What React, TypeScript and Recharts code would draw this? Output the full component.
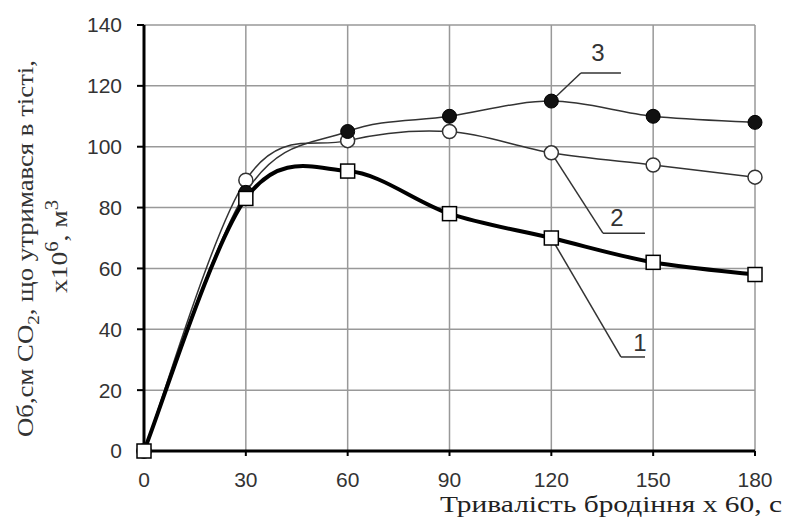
import React from "react";
import {
  LineChart,
  Line,
  XAxis,
  YAxis,
  CartesianGrid,
  ReferenceLine,
  ReferenceDot,
} from "recharts";

const minutes = [0, 30, 60, 90, 120, 150, 180];
const series1 = [0, 83, 92, 78, 70, 62, 58];
const series2 = [0, 89, 102, 105, 98, 94, 90];
const series3 = [0, 85, 105, 110, 115, 110, 108];
const xTicks = [0, 30, 60, 90, 120, 150, 180];
const yTicks = [0, 20, 40, 60, 80, 100, 120, 140];

// callout labels: text anchor, leader start, elbow, end
const calloutNames = ["1", "2", "3"];
const calloutText = [
  { x: 146.1, y: 35.8 },
  { x: 139.3, y: 76.9 },
  { x: 133.7, y: 131.1 },
];
const calloutStart = [
  { x: 120, y: 70 },
  { x: 120, y: 98 },
  { x: 120, y: 115 },
];
const calloutElbow = [
  { x: 140.5, y: 30.9 },
  { x: 135.2, y: 71.6 },
  { x: 128.7, y: 124.2 },
];
const calloutEnd = [
  { x: 147.6, y: 30.9 },
  { x: 147.6, y: 71.6 },
  { x: 140.5, y: 124.2 },
];

const data = minutes.map((t, i) => ({
  t,
  s1: series1[i],
  s2: series2[i],
  s3: series3[i],
}));

// Excel-style smoothed line (Catmull-Rom through the points)
const excelSmooth = (context: any) => {
  let pts: [number, number][] = [];
  return {
    areaStart() {},
    areaEnd() {},
    lineStart() {
      pts = [];
    },
    point(x: number, y: number) {
      pts.push([x, y]);
    },
    lineEnd() {
      if (!pts.length) return;
      context.moveTo(pts[0][0], pts[0][1]);
      for (let i = 0; i < pts.length - 1; i++) {
        const p0 = pts[Math.max(i - 1, 0)];
        const p1 = pts[i];
        const p2 = pts[i + 1];
        const p3 = pts[Math.min(i + 2, pts.length - 1)];
        context.bezierCurveTo(
          p1[0] + (p2[0] - p0[0]) / 6,
          p1[1] + (p2[1] - p0[1]) / 6,
          p2[0] - (p3[0] - p1[0]) / 6,
          p2[1] - (p3[1] - p1[1]) / 6,
          p2[0],
          p2[1]
        );
      }
    },
  };
};

const squareDot = (p: any) => (
  <rect
    key={`sq-${p.index}`}
    x={p.cx - 7}
    y={p.cy - 7}
    width={14}
    height={14}
    fill="#fff"
    stroke="#000"
    strokeWidth={1.5}
  />
);

const tickFont = { fontFamily: "Liberation Sans", fontSize: 21, fill: "#333" };

export default function App() {
  return (
    <div style={{ position: "absolute", left: 0, top: 0, background: "#fff" }}>
      <LineChart
        width={786}
        height={527}
        data={data}
        margin={{ top: 25, right: 31, left: 0, bottom: 0 }}
      >
        <CartesianGrid stroke="#999" strokeWidth={1.5} />
        <XAxis
          dataKey="t"
          type="number"
          domain={[0, 180]}
          ticks={xTicks}
          height={76}
          tick={tickFont}
          tickSize={5}
          tickMargin={16}
          axisLine={{ stroke: "#000", strokeWidth: 3 }}
          tickLine={{ stroke: "#000", strokeWidth: 2 }}
          label={{
            content: () => (
              <text
                x={440}
                y={512}
                textLength={342}
                lengthAdjust="spacingAndGlyphs"
                fontFamily="Liberation Serif"
                fontSize={24}
                fill="#222"
              >
                Тривалість бродіння х 60, с
              </text>
            ),
          }}
        />
        <YAxis
          type="number"
          domain={[0, 140]}
          ticks={yTicks}
          width={144}
          tick={tickFont}
          tickSize={7}
          tickMargin={15}
          axisLine={{ stroke: "#000", strokeWidth: 3 }}
          tickLine={{ stroke: "#000", strokeWidth: 2 }}
          label={{
            content: () => (
              <g fontFamily="Liberation Serif" fill="#333">
                <text
                  transform="translate(33,437) rotate(-90)"
                  textLength={377}
                  lengthAdjust="spacingAndGlyphs"
                  fontSize={24}
                >
                  Об,см СО
                  <tspan dy={6} fontSize={17}>
                    2
                  </tspan>
                  <tspan dy={-6}>, що утримався в тісті,</tspan>
                </text>
                <text
                  transform="translate(67,293) rotate(-90)"
                  textLength={93}
                  lengthAdjust="spacingAndGlyphs"
                  fontSize={24}
                >
                  x10
                  <tspan dy={-9} fontSize={18}>
                    6
                  </tspan>
                  <tspan dy={9}>, м</tspan>
                  <tspan dy={-9} fontSize={18}>
                    3
                  </tspan>
                </text>
              </g>
            ),
          }}
        />
        {calloutNames.map((n, i) => (
          <ReferenceLine
            key={`a-${n}`}
            segment={[calloutStart[i], calloutElbow[i]]}
            stroke="#333"
            strokeWidth={1.5}
          />
        ))}
        {calloutNames.map((n, i) => (
          <ReferenceLine
            key={`b-${n}`}
            segment={[calloutElbow[i], calloutEnd[i]]}
            stroke="#333"
            strokeWidth={1.5}
          />
        ))}
        {calloutNames.map((n, i) => (
          <ReferenceDot
            key={`t-${n}`}
            x={calloutText[i].x}
            y={calloutText[i].y}
            r={0}
            fill="none"
            stroke="none"
            label={{
              value: n,
              position: "center",
              fontFamily: "Liberation Sans",
              fontSize: 24,
              fill: "#333",
            }}
          />
        ))}
        <Line
          dataKey="s2"
          type={excelSmooth as any}
          stroke="#333"
          strokeWidth={1.5}
          dot={{ r: 7, fill: "#fff", stroke: "#333", strokeWidth: 1.5 }}
          isAnimationActive={false}
        />
        <Line
          dataKey="s3"
          type={excelSmooth as any}
          stroke="#333"
          strokeWidth={1.5}
          dot={{ r: 7, fill: "#111", stroke: "#000", strokeWidth: 1 }}
          isAnimationActive={false}
        />
        <Line
          dataKey="s1"
          type={excelSmooth as any}
          stroke="#000"
          strokeWidth={4}
          dot={squareDot}
          isAnimationActive={false}
        />
      </LineChart>
    </div>
  );
}
